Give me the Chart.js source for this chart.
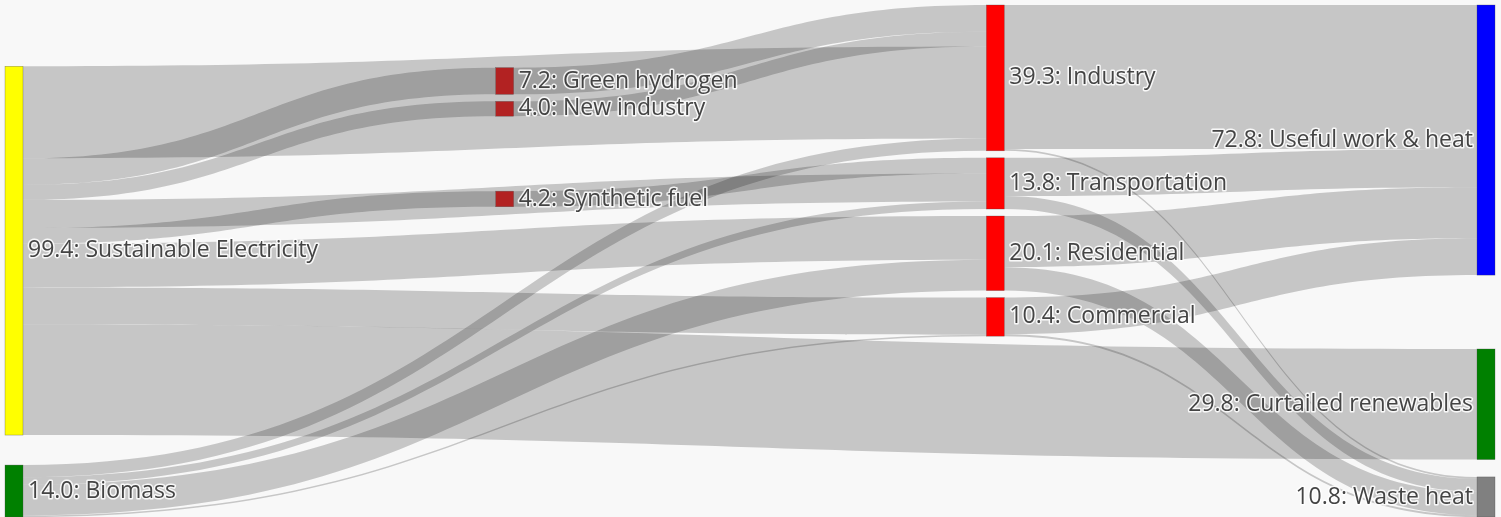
<!DOCTYPE html>
<html>
<head>
<meta charset="utf-8">
<script src="https://cdn.jsdelivr.net/npm/chart.js@4.4.1/dist/chart.umd.min.js"></script>
<style>
  html, body { margin: 0; padding: 0; background: #f8f8f8; }
</style>
</head>
<body>
<canvas id="sankey" width="1501" height="517"></canvas>
<script>
// nodes of the energy flow
const nodeNames = [
  "Sustainable Electricity", "Biomass",
  "Green hydrogen", "New industry", "Synthetic fuel",
  "Industry", "Transportation", "Residential", "Commercial",
  "Useful work & heat", "Curtailed renewables", "Waste heat",
];

// flows: source -> target, value
const linkSource = [
  "Sustainable Electricity", "Sustainable Electricity", "Sustainable Electricity", "Sustainable Electricity",
  "Sustainable Electricity", "Sustainable Electricity", "Sustainable Electricity", "Sustainable Electricity",
  "Biomass", "Biomass", "Biomass", "Biomass",
  "Green hydrogen", "New industry", "Synthetic fuel",
  "Industry", "Industry", "Transportation", "Transportation",
  "Residential", "Residential", "Commercial", "Commercial",
];
const linkTarget = [
  "Industry", "Green hydrogen", "New industry", "Synthetic fuel",
  "Transportation", "Residential", "Commercial", "Curtailed renewables",
  "Industry", "Transportation", "Residential", "Commercial",
  "Industry", "Industry", "Transportation",
  "Useful work & heat", "Waste heat", "Useful work & heat", "Waste heat",
  "Useful work & heat", "Waste heat", "Useful work & heat", "Waste heat",
];
const linkValue = [
  24.8, 7.2, 4.0, 4.2,
  7.6, 11.8, 10.0, 29.8,
  3.3, 2.0, 8.3, 0.4,
  7.2, 4.0, 4.2,
  38.8, 0.5, 10.3, 3.5,
  13.8, 6.3, 9.9, 0.5,
];

const nodeColor = {
  "Sustainable Electricity": "#ffff00",
  "Biomass": "#008000",
  "Green hydrogen": "#b22222",
  "New industry": "#b22222",
  "Synthetic fuel": "#b22222",
  "Industry": "#ff0000",
  "Transportation": "#ff0000",
  "Residential": "#ff0000",
  "Commercial": "#ff0000",
  "Useful work & heat": "#0000ff",
  "Curtailed renewables": "#008000",
  "Waste heat": "#808080",
};

function buildGraph() {
  const nodes = nodeNames.map((name, index) => ({ name, index, sourceLinks: [], targetLinks: [] }));
  const byName = Object.fromEntries(nodes.map((n) => [n.name, n]));
  const links = linkValue.map((value, index) => {
    const source = byName[linkSource[index]];
    const target = byName[linkTarget[index]];
    const link = { source, target, value, width: value, index };
    source.sourceLinks.push(link);
    target.targetLinks.push(link);
    return link;
  });
  const total = (arr) => arr.reduce((s, l) => s + l.value, 0);
  nodes.forEach((n) => (n.value = Math.max(total(n.sourceLinks), total(n.targetLinks))));

  // column: sources first, sinks last, others by longest path
  const depth = (n) => n._d ?? (n._d = n.targetLinks.length ? 1 + Math.max(...n.targetLinks.map((l) => depth(l.source))) : 0);
  const height = (n) => n._h ?? (n._h = n.sourceLinks.length ? 1 + Math.max(...n.sourceLinks.map((l) => height(l.target))) : 0);
  const maxLayer = Math.max(...nodes.map(depth));
  nodes.forEach((n) => {
    if (!n.targetLinks.length) n.layer = 0;
    else if (!n.sourceLinks.length) n.layer = maxLayer;
    else n.layer = Math.max(depth(n), maxLayer - height(n));
  });
  return { nodes, links, maxLayer };
}

// vertical layout in value units
function layoutGraph(graph, y0, y1, py, pads, align, iterations) {
  const columns = [];
  graph.nodes.forEach((n) => (columns[n.layer] ||= []).push(n));

  const byBreadth = (a, b) => a.y0 - b.y0;
  const center = (n) => n.y0 + n.y1;
  const bySource = (a, b) => center(a.source) - center(b.source) || a.index - b.index;
  const byTarget = (a, b) => center(a.target) - center(b.target) || a.index - b.index;
  const reorderAll = () => graph.nodes.forEach((n) => { n.sourceLinks.sort(byTarget); n.targetLinks.sort(bySource); });

  columns.forEach((nodes, c) => {
    const gapMin = pads[c];
    const sum = nodes.reduce((s, n) => s + n.value, 0);
    let y, gap = gapMin;
    if (align[c] === "end") y = y1 - sum - gapMin * (nodes.length - 1);
    else if ((align[c] === "spread") && nodes.length > 1) { y = y0; gap = (y1 - y0 - sum) / (nodes.length - 1); }
    else if (align[c] === "start") y = y0;
    else y = (y0 + y1 - sum - gapMin * (nodes.length - 1)) / 2;
    for (const n of nodes) { n.y0 = y; n.y1 = y + n.value; y = n.y1 + gap; }
  });
  reorderAll();

  function targetTop(source, target) {
    let y = source.y0 - ((source.sourceLinks.length - 1) * py) / 2;
    for (const { target: node, width } of source.sourceLinks) { if (node === target) break; y += width + py; }
    for (const { source: node, width } of target.targetLinks) { if (node === source) break; y -= width; }
    return y;
  }
  function sourceTop(source, target) {
    let y = target.y0 - ((target.targetLinks.length - 1) * py) / 2;
    for (const { source: node, width } of target.targetLinks) { if (node === source) break; y += width + py; }
    for (const { target: node, width } of source.sourceLinks) { if (node === target) break; y -= width; }
    return y;
  }
  function resolve(nodes, gap) {
    nodes.sort(byBreadth);
    let y = y0;
    for (const n of nodes) { const d = y - n.y0; if (d > 0) { n.y0 += d; n.y1 += d; } y = n.y1 + gap; }
    y = y1;
    for (let i = nodes.length - 1; i >= 0; --i) {
      const n = nodes[i]; const d = n.y1 - y; if (d > 0) { n.y0 -= d; n.y1 -= d; } y = n.y0 - gap;
    }
  }
  function clampInside(nodes, gap) {
    for (let i = 1; i < nodes.length - 1; ++i) {
      const n = nodes[i];
      const lo = nodes[i - 1].y1 + gap, hi = nodes[i + 1].y0 - gap - n.value;
      const t = Math.min(Math.max(n.y0, lo), hi);
      n.y1 += t - n.y0; n.y0 = t;
    }
  }

  for (let it = 0; it < iterations; ++it) {
    const alpha = Math.pow(0.99, it);
    columns.forEach((nodes, c) => {
      const mode = align[c];
      if (mode !== "relax" && mode !== "spread") return;
      const movable = mode === "spread" ? nodes.slice(1, -1) : nodes;
      for (const n of movable) {
        let y = 0, w = 0;
        for (const l of n.targetLinks) { y += targetTop(l.source, n) * l.value; w += l.value; }
        for (const l of n.sourceLinks) { y += sourceTop(n, l.target) * l.value; w += l.value; }
        if (!(w > 0)) continue;
        const dy = (y / w - n.y0) * alpha;
        n.y0 += dy; n.y1 += dy;
      }
      if (mode === "relax") resolve(nodes, pads[c]);
      else clampInside(nodes, pads[c]);
      reorderAll();
    });
  }

  for (const n of graph.nodes) {
    let ys = n.y0, yt = n.y0;
    for (const l of n.sourceLinks) { l.sy0 = ys; ys += l.width; l.sy1 = ys; }
    for (const l of n.targetLinks) { l.ty0 = yt; yt += l.width; l.ty1 = yt; }
  }
  return graph;
}

const sankeyPlugin = {
  id: "sankeyFlows",
  afterDatasetsDraw(chart, args, opts) {
    const { ctx } = chart;
    const xs = chart.scales.x;
    const ys = chart.scales.y;
    const pxPerUnit = Math.abs(ys.getPixelForValue(1) - ys.getPixelForValue(0));
    const pads = opts.columnPadding.map((p) => p / pxPerUnit);
    const graph = layoutGraph(buildGraph(), ys.min, ys.max, opts.nodePadding / pxPerUnit, pads, opts.columnAlign, opts.iterations);
    const nodeX = (n) => xs.getPixelForValue(n.layer);
    const w = opts.nodeWidth;

    ctx.save();
    // flows
    ctx.fillStyle = opts.linkColor;
    for (const l of graph.links) {
      const x0 = nodeX(l.source) + w;
      const x1 = nodeX(l.target);
      const xm = (x0 + x1) / 2;
      const a0 = ys.getPixelForValue(l.sy0), b0 = ys.getPixelForValue(l.sy1);
      const a1 = ys.getPixelForValue(l.ty0), b1 = ys.getPixelForValue(l.ty1);
      ctx.beginPath();
      ctx.moveTo(x0, a0);
      ctx.bezierCurveTo(xm, a0, xm, a1, x1, a1);
      ctx.lineTo(x1, b1);
      ctx.bezierCurveTo(xm, b1, xm, b0, x0, b0);
      ctx.closePath();
      ctx.fill();
    }
    // nodes
    for (const n of graph.nodes) {
      const top = ys.getPixelForValue(n.y0);
      const h = ys.getPixelForValue(n.y1) - top;
      ctx.fillStyle = nodeColor[n.name];
      ctx.fillRect(nodeX(n), top, w, h);
      ctx.lineWidth = 0.5;
      ctx.strokeStyle = "rgba(68,68,68,0.6)";
      ctx.strokeRect(nodeX(n), top, w, h);
    }
    // labels
    ctx.font = opts.font;
    ctx.textBaseline = "middle";
    ctx.lineJoin = "round";
    for (const n of graph.nodes) {
      const text = n.value.toFixed(1) + ": " + n.name;
      const yc = ys.getPixelForValue((n.y0 + n.y1) / 2);
      const last = n.layer === graph.maxLayer;
      const x = last ? nodeX(n) - 4 : nodeX(n) + w + 5;
      ctx.textAlign = last ? "right" : "left";
      ctx.lineWidth = 3;
      ctx.strokeStyle = "rgba(255,255,255,0.85)";
      ctx.strokeText(text, x, yc);
      ctx.fillStyle = "#444";
      ctx.fillText(text, x, yc);
    }
    ctx.restore();
  },
};

new Chart(document.getElementById("sankey"), {
  type: "scatter",
  data: { datasets: [] },
  plugins: [sankeyPlugin],
  options: {
    responsive: false,
    animation: false,
    devicePixelRatio: 1,
    layout: { padding: { top: 5, left: 5, right: 24, bottom: 0 } },
    scales: {
      x: { type: "linear", min: 0, max: 3, display: false },
      y: { type: "linear", min: 0, max: 138, reverse: true, display: false },
    },
    plugins: {
      legend: { display: false },
      tooltip: { enabled: false },
      sankeyFlows: {
        nodeWidth: 18,
        nodePadding: 7,
        columnPadding: [30, 7, 7, 7],
        columnAlign: ["end", "relax", "start", "spread"],
        iterations: 32,
        linkColor: "rgba(0,0,0,0.2)",
        font: '23px "Open Sans"',
      },
    },
  },
});
</script>
</body>
</html>
